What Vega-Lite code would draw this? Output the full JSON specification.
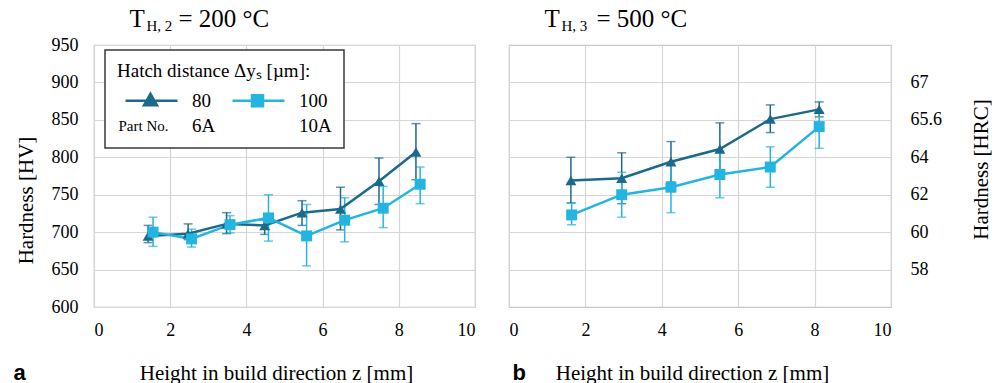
{
  "$schema": "https://vega.github.io/schema/vega-lite/v6.json",
  "padding": {"left": 12, "top": 5, "right": 0, "bottom": 0},
  "autosize": {"type": "pad"},
  "background": "white",
  "bounds": "flush",
  "spacing": 34,
  "datasets": {
    "t200": [
      {"hatch": "80", "z": 1.42, "hv": 695, "lo": 686, "hi": 709},
      {"hatch": "80", "z": 2.47, "hv": 698, "lo": 690, "hi": 711},
      {"hatch": "80", "z": 3.48, "hv": 711, "lo": 698, "hi": 726},
      {"hatch": "80", "z": 4.48, "hv": 709, "lo": 697, "hi": 716},
      {"hatch": "80", "z": 5.46, "hv": 726, "lo": 709, "hi": 742},
      {"hatch": "80", "z": 6.47, "hv": 731, "lo": 703, "hi": 760},
      {"hatch": "80", "z": 7.48, "hv": 768, "lo": 737, "hi": 799},
      {"hatch": "80", "z": 8.45, "hv": 807, "lo": 770, "hi": 845},
      {"hatch": "100", "z": 1.55, "hv": 700, "lo": 681, "hi": 720},
      {"hatch": "100", "z": 2.56, "hv": 691, "lo": 680, "hi": 704},
      {"hatch": "100", "z": 3.57, "hv": 710, "lo": 699, "hi": 722},
      {"hatch": "100", "z": 4.58, "hv": 719, "lo": 688, "hi": 750},
      {"hatch": "100", "z": 5.58, "hv": 695, "lo": 655, "hi": 737},
      {"hatch": "100", "z": 6.58, "hv": 716, "lo": 687, "hi": 746},
      {"hatch": "100", "z": 7.59, "hv": 732, "lo": 706, "hi": 761},
      {"hatch": "100", "z": 8.56, "hv": 764, "lo": 738, "hi": 787}
    ],
    "t500": [
      {"hatch": "80", "z": 1.62, "hv": 769, "lo": 739, "hi": 800},
      {"hatch": "80", "z": 2.95, "hv": 772, "lo": 738, "hi": 806},
      {"hatch": "80", "z": 4.24, "hv": 794, "lo": 767, "hi": 821},
      {"hatch": "80", "z": 5.52, "hv": 811, "lo": 776, "hi": 846},
      {"hatch": "80", "z": 6.84, "hv": 851, "lo": 833, "hi": 870},
      {"hatch": "80", "z": 8.12, "hv": 864, "lo": 854, "hi": 874},
      {"hatch": "100", "z": 1.64, "hv": 723, "lo": 710, "hi": 739},
      {"hatch": "100", "z": 2.95, "hv": 750, "lo": 720, "hi": 780},
      {"hatch": "100", "z": 4.24, "hv": 760, "lo": 726, "hi": 793},
      {"hatch": "100", "z": 5.52, "hv": 777, "lo": 746, "hi": 808},
      {"hatch": "100", "z": 6.84, "hv": 787, "lo": 760, "hi": 814},
      {"hatch": "100", "z": 8.12, "hv": 841, "lo": 812, "hi": 860}
    ]
  },
  "resolve": {"scale": {"color": "independent", "x": "independent", "y": "independent"}},
  "hconcat": [
    {
      "width": 381,
      "height": 262,
      "data": {"name": "t200"},
      "resolve": {"axis": {"x": "independent", "y": "independent"}},
      "layer": [
        {
          "mark": {"type": "errorbar", "ticks": true, "size": 9, "thickness": 1.5},
          "encoding": {
            "x": {"field": "z", "type": "quantitative", "scale": {"domain": [0, 10], "nice": false},
              "axis": {"values": [0, 2, 4, 6, 8, 10], "title": "Height in build direction z [mm]", "grid": true, "labelPadding": 14,
                "titleX": 182, "titleY": 72, "titleAlign": "center", "titleBaseline": "alphabetic"}},
            "y": {"field": "lo", "type": "quantitative", "scale": {"domain": [600, 950], "nice": false, "zero": false},
              "axis": {"orient": "left", "values": [600, 650, 700, 750, 800, 850, 900, 950], "title": "Hardness [HV]", "grid": true, "labelPadding": 16,
                "titleX": -62, "titleY": 155, "titleAngle": 270, "titleAlign": "center", "titleBaseline": "alphabetic"}},
            "y2": {"field": "hi"},
            "color": {"field": "hatch", "type": "nominal", "scale": {"domain": ["80", "100"], "range": ["#1b6a8b", "#23b4e0"]}}
          }
        },
        {
          "mark": {"type": "line", "strokeWidth": 2.5},
          "encoding": {
            "x": {"field": "z", "type": "quantitative",
              "axis": {"orient": "bottom", "title": "a", "labels": false, "grid": false, "titleX": -81, "titleY": 72,
                "titleAlign": "left", "titleBaseline": "alphabetic", "titleFont": "Liberation Sans", "titleFontWeight": "bold", "titleFontSize": 22}},
            "y": {"field": "hv", "type": "quantitative", "axis": null},
            "color": {"field": "hatch", "type": "nominal",
              "legend": {
                "title": "Hatch distance Δyₛ [µm]:",
                "orient": "none", "legendX": 11, "legendY": 5,
                "direction": "horizontal",
                "padding": 12, "strokeColor": "#3a3a3a", "fillColor": "#ffffff",
                "titleFont": "Liberation Serif", "titleFontSize": 19, "titleFontWeight": "normal", "titleColor": "#000", "titlePadding": 8, "titleLimit": 400,
                "labelFont": "Liberation Serif", "labelFontSize": 19, "labelColor": "#000", "labelOffset": 52, "columnPadding": 8,
                "symbolSize": 400, "symbolStrokeWidth": 2.5,
                "labelExpr": "datum.value === '80' ? ['80', '6A'] : ['100', '10A']",
                "encode": {
                  "legend": {"update": {"strokeWidth": {"value": 1.5}}},
                  "symbols": {"update": {
                    "shape": {"signal": "datum.value === '80' ? 'M-0.3,0H4.9M2.2,-0.7L2.85,0.45H1.55Z' : 'M-0.3,0H4.9M1.65,-0.55H2.75V0.55H1.65Z'"},
                    "fill": {"signal": "datum.value === '80' ? '#1b6a8b' : '#23b4e0'"},
                    "stroke": {"signal": "datum.value === '80' ? '#1b6a8b' : '#23b4e0'"},
                    "size": {"value": 400},
                    "strokeWidth": {"value": 2.5},
                    "opacity": {"value": 1}
                  }},
                  "labels": {"update": {"lineHeight": {"value": 25}}}
                }
              }}
          }
        },
        {
          "transform": [{"filter": "datum.hatch === '80'"}],
          "mark": {"type": "point", "filled": true, "size": 120, "opacity": 1, "shape": "triangle-up"},
          "encoding": {
            "x": {"field": "z", "type": "quantitative",
              "axis": {"orient": "top", "title": "Part No.", "labels": false, "grid": false, "titleX": 24, "titleY": 85,
                "titleAlign": "left", "titleBaseline": "alphabetic", "titleFontSize": 15, "zindex": 1}},
            "y": {"field": "hv", "type": "quantitative",
              "axis": {"orient": "left", "title": "T", "labels": false, "grid": false, "titleAngle": 0, "titleX": 35, "titleY": -19,
                "titleAlign": "left", "titleBaseline": "alphabetic", "titleFontSize": 25}},
            "color": {"field": "hatch", "type": "nominal"}
          }
        },
        {
          "transform": [{"filter": "datum.hatch === '100'"}],
          "mark": {"type": "point", "filled": true, "size": 120, "opacity": 1, "shape": "square"},
          "encoding": {
            "x": {"field": "z", "type": "quantitative",
              "axis": {"orient": "top", "title": "H, 2", "labels": false, "grid": false, "titleX": 52, "titleY": -15,
                "titleAlign": "left", "titleBaseline": "alphabetic", "titleFontSize": 15}},
            "y": {"field": "hv", "type": "quantitative",
              "axis": {"orient": "left", "title": "= 200 °C", "labels": false, "grid": false, "titleAngle": 0, "titleX": 84, "titleY": -19,
                "titleAlign": "left", "titleBaseline": "alphabetic", "titleFontSize": 25}},
            "color": {"field": "hatch", "type": "nominal"}
          }
        }
      ]
    },
    {
      "width": 382,
      "height": 262,
      "data": {"name": "t500"},
      "resolve": {"axis": {"x": "independent", "y": "independent"}},
      "layer": [
        {
          "mark": {"type": "errorbar", "ticks": true, "size": 9, "thickness": 1.5},
          "encoding": {
            "x": {"field": "z", "type": "quantitative", "scale": {"domain": [0, 10], "nice": false},
              "axis": {"values": [0, 2, 4, 6, 8, 10], "title": "Height in build direction z [mm]", "grid": true, "labelPadding": 14,
                "titleX": 183, "titleY": 72, "titleAlign": "center", "titleBaseline": "alphabetic"}},
            "y": {"field": "lo", "type": "quantitative", "scale": {"domain": [600, 950], "nice": false, "zero": false},
              "axis": {"orient": "right", "values": [650, 700, 750, 800, 850, 900], "title": "Hardness [HRC]", "grid": true, "labelPadding": 19,
                "labelExpr": "datum.value == 650 ? '58' : datum.value == 700 ? '60' : datum.value == 750 ? '62' : datum.value == 800 ? '64' : datum.value == 850 ? '65.6' : '67'",
                "titleX": 96, "titleY": 124, "titleAngle": 270, "titleAlign": "center", "titleBaseline": "alphabetic"}},
            "y2": {"field": "hi"},
            "color": {"field": "hatch", "type": "nominal", "scale": {"domain": ["80", "100"], "range": ["#1b6a8b", "#23b4e0"]}, "legend": null}
          }
        },
        {
          "mark": {"type": "line", "strokeWidth": 2.5},
          "encoding": {
            "x": {"field": "z", "type": "quantitative",
              "axis": {"orient": "bottom", "title": "b", "labels": false, "grid": false, "titleX": 3, "titleY": 72,
                "titleAlign": "left", "titleBaseline": "alphabetic", "titleFont": "Liberation Sans", "titleFontWeight": "bold", "titleFontSize": 22}},
            "y": {"field": "hv", "type": "quantitative", "axis": null},
            "color": {"field": "hatch", "type": "nominal", "legend": null}
          }
        },
        {
          "transform": [{"filter": "datum.hatch === '80'"}],
          "mark": {"type": "point", "filled": true, "size": 120, "opacity": 1, "shape": "triangle-up"},
          "encoding": {
            "x": {"field": "z", "type": "quantitative",
              "axis": {"orient": "top", "title": "H, 3", "labels": false, "grid": false, "titleX": 52, "titleY": -15,
                "titleAlign": "left", "titleBaseline": "alphabetic", "titleFontSize": 15}},
            "y": {"field": "hv", "type": "quantitative",
              "axis": {"orient": "left", "title": "T", "labels": false, "grid": false, "titleAngle": 0, "titleX": 35, "titleY": -19,
                "titleAlign": "left", "titleBaseline": "alphabetic", "titleFontSize": 25}},
            "color": {"field": "hatch", "type": "nominal", "legend": null}
          }
        },
        {
          "transform": [{"filter": "datum.hatch === '100'"}],
          "mark": {"type": "point", "filled": true, "size": 120, "opacity": 1, "shape": "square"},
          "encoding": {
            "x": {"field": "z", "type": "quantitative", "axis": null},
            "y": {"field": "hv", "type": "quantitative",
              "axis": {"orient": "left", "title": "= 500 °C", "labels": false, "grid": false, "titleAngle": 0, "titleX": 87, "titleY": -19,
                "titleAlign": "left", "titleBaseline": "alphabetic", "titleFontSize": 25}},
            "color": {"field": "hatch", "type": "nominal", "legend": null}
          }
        }
      ]
    }
  ],
  "config": {
    "font": "Liberation Serif",
    "view": {"stroke": "#c8c8c8", "strokeWidth": 1.2},
    "axis": {
      "gridColor": "#d6d6d6", "gridWidth": 1.2,
      "labelFont": "Liberation Serif", "labelFontSize": 18, "labelColor": "#000", "labelOverlap": false,
      "titleFont": "Liberation Serif", "titleFontWeight": "normal", "titleColor": "#000", "titleFontSize": 21,
      "ticks": false, "domain": false
    }
  }
}
